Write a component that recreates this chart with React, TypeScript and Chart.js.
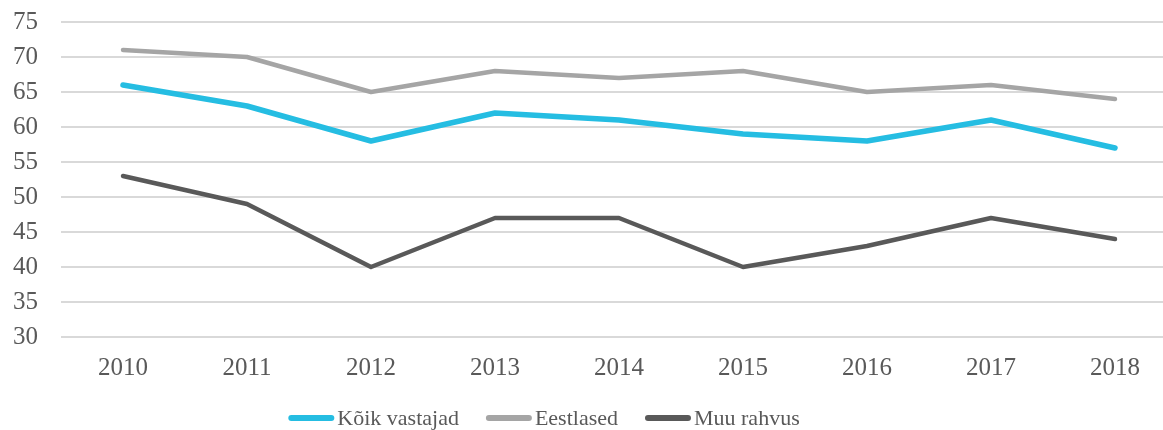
import React, { useEffect, useRef } from "react";
import { Chart, registerables } from "chart.js";

Chart.register(...registerables);

const categories = ["2010", "2011", "2012", "2013", "2014", "2015", "2016", "2017", "2018"];
const koikVastajad = [66, 63, 58, 62, 61, 59, 58, 61, 57];
const eestlased = [71, 70, 65, 68, 67, 68, 65, 66, 64];
const muuRahvus = [53, 49, 40, 47, 47, 40, 43, 47, 44];
const seriesNames = ["Kõik vastajad", "Eestlased", "Muu rahvus"];
const seriesColors = ["#25BDE2", "#A5A5A5", "#595959"];
const yTicks = { min: 30, max: 75, step: 5 };

const FONT = "'Liberation Serif', 'DejaVu Serif', serif";
const TEXT = "#595959";

const legendPlugin = {
  id: "customLegend",
  afterDraw(chart: any) {
    const ctx = chart.ctx as CanvasRenderingContext2D;
    const ds = chart.data.datasets;
    ctx.save();
    ctx.font = `22px ${FONT}`;
    const lineW = 46;
    const gap = 3;
    const itemGap = 27;
    const widths = ds.map((d: any) => ctx.measureText(d.label).width);
    const total = widths.reduce((a: number, w: number) => a + lineW + gap + w, 0) + itemGap * (ds.length - 1);
    let x = 544 - total / 2;
    const y = 418;
    ds.forEach((d: any, i: number) => {
      ctx.strokeStyle = d.borderColor;
      ctx.lineWidth = 6;
      ctx.lineCap = "round";
      ctx.beginPath();
      ctx.moveTo(x + 3, y);
      ctx.lineTo(x + lineW - 3, y);
      ctx.stroke();
      ctx.fillStyle = TEXT;
      ctx.textBaseline = "middle";
      ctx.textAlign = "left";
      ctx.fillText(d.label, x + lineW + gap, y + 1);
      x += lineW + gap + widths[i] + itemGap;
    });
    ctx.restore();
  },
};

export default function App() {
  const ref = useRef<HTMLCanvasElement | null>(null);
  useEffect(() => {
    if (!ref.current) return;
    const mk = (i: number, data: number[], w: number) => ({
      label: seriesNames[i],
      data,
      borderColor: seriesColors[i],
      backgroundColor: seriesColors[i],
      borderWidth: w,
      pointRadius: 0,
      tension: 0,
      borderCapStyle: "round" as const,
      borderJoinStyle: "round" as const,
    });
    const chart = new Chart(ref.current, {
      type: "line",
      data: {
        labels: categories,
        datasets: [mk(0, koikVastajad, 5.5), mk(1, eestlased, 4.5), mk(2, muuRahvus, 4.5)],
      },
      plugins: [legendPlugin],
      options: {
        animation: false,
        responsive: false,
        maintainAspectRatio: false,
        layout: { padding: { top: 22, right: 3, left: 0, bottom: 45 } },
        plugins: {
          tooltip: { enabled: false },
          legend: { display: false },
        },
        scales: {
          x: {
            offset: true,
            grid: { display: false, drawTicks: false },
            border: { display: false },
            ticks: { color: TEXT, font: { family: FONT, size: 25 }, padding: 16 },
            afterFit: (s: any) => {
              s.height = 48;
              s.paddingLeft = 0;
              s.paddingRight = 0;
            },
          },
          y: {
            min: yTicks.min,
            max: yTicks.max,
            ticks: {
              stepSize: yTicks.step,
              color: TEXT,
              font: { family: FONT, size: 25 },
              padding: 23,
            },
            grid: { color: "#D9D9D9", lineWidth: 2, drawTicks: false },
            border: { display: false },
            afterFit: (s: any) => {
              s.width = 61;
              s.paddingTop = 0;
              s.paddingBottom = 0;
            },
          },
        },
      },
    });
    return () => chart.destroy();
  }, []);
  return (
    <div style={{ position: "fixed", left: 0, top: 0, width: 1180, height: 430, overflow: "hidden", background: "#fff" }}>
      <canvas ref={ref} width={1180} height={430} style={{ display: "block" }} />
    </div>
  );
}
